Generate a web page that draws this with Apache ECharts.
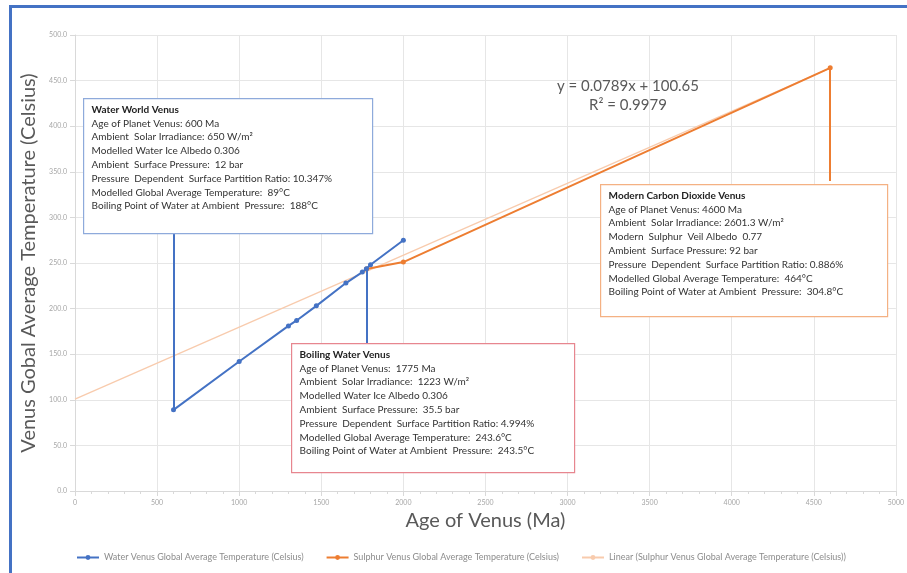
<!DOCTYPE html>
<html><head><meta charset="utf-8">
<script src="https://cdn.jsdelivr.net/npm/echarts@6/dist/echarts.min.js"></script>
<style>html,body{margin:0;padding:0;background:#fff}#c{width:907px;height:573px}</style>
</head><body><div id="c"></div>
<script>
const waterSeries = [[600,89],[1000,142],[1300,181],[1350,187],[1470,203],[1650,228],[1750,240],[1775,243.6],[1800,248],[2000,275]];
const sulphurSeries = [[1775,243.5],[2000,251],[4600,464]];
const trendSeries = [[0,100.65],[4600,463.59]];
const waterLeader = [[600,89],[600,283]];
const boilLeader = [[1775,243.6],[1775,162]];
const co2Leader = [[4600,464],[4600,340]];
const legendNames = ['Water Venus Global Average Temperature (Celsius)','Sulphur Venus Global Average Temperature (Celsius)','Linear (Sulphur Venus Global Average Temperature (Celsius))'];
const boxWater = ['Water World Venus','Age of Planet Venus: 600 Ma','Ambient  Solar Irradiance: 650 W/m²','Modelled Water Ice Albedo 0.306','Ambient  Surface Pressure:  12 bar','Pressure  Dependent  Surface Partition Ratio: 10.347%','Modelled Global Average Temperature:  89°C','Boiling Point of Water at Ambient  Pressure:  188°C'];
const boxBoil = ['Boiling Water Venus','Age of Planet Venus:  1775 Ma','Ambient  Solar Irradiance:  1223 W/m²','Modelled Water Ice Albedo 0.306','Ambient  Surface Pressure:  35.5 bar','Pressure  Dependent  Surface Partition Ratio: 4.994%','Modelled Global Average Temperature:  243.6°C','Boiling Point of Water at Ambient  Pressure:  243.5°C'];
const boxCo2 = ['Modern Carbon Dioxide Venus','Age of Planet Venus: 4600 Ma','Ambient  Solar Irradiance: 2601.3 W/m²','Modern  Sulphur  Veil Albedo  0.77','Ambient  Surface Pressure: 92 bar','Pressure  Dependent  Surface Partition Ratio: 0.886%','Modelled Global Average Temperature:  464°C','Boiling Point of Water at Ambient  Pressure:  304.8°C'];
const eqLines = ['y = 0.0789x + 100.65','R² = 0.9979'];

const FONT = 'Lato, "Open Sans", sans-serif';
const chart = echarts.init(document.getElementById('c'));

function box(lines, x, y, w, h, border){
  const txt = lines.map((l,i)=> i===0 ? '{b|'+l+'}' : '{n|'+l+'}').join('\n');
  return {
    type:'group', left:x, top:y, z:100,
    children:[
      {type:'rect', z:100, shape:{x:0,y:0,width:w,height:h}, style:{fill:'#fff', stroke:border, lineWidth:1.2}},
      {type:'text', z:101, x:8, y:4, style:{text:txt, rich:{
        b:{fontFamily:FONT, fontSize:10, fontWeight:'bold', fill:'#222', lineHeight:13.8},
        n:{fontFamily:FONT, fontSize:10, fill:'#333', lineHeight:13.8}
      }}}
    ]
  };
}
function leader(pts){
  return {silent:true, symbol:['none','none'], label:{show:false}, lineStyle:{type:'solid', width:2}, emphasis:{disabled:true},
    data:[[{coord:pts[0]},{coord:pts[1]}]]};
}

chart.setOption({
  animation:false,
  grid:{left:75, right:5, top:35, bottom:82, show:false},
  legend:{top:553, left:76, width:831, itemGap:22, itemWidth:22, itemHeight:6, padding:0,
    textStyle:{fontFamily:FONT, fontSize:9, color:'#8c8c8c'},
    data:legendNames},
  xAxis:{type:'value', min:0, max:5000, interval:500,
    name:'Age of Venus (Ma)', nameLocation:'middle', nameGap:20,
    nameTextStyle:{fontFamily:FONT, fontSize:20, color:'#595959'},
    axisLine:{lineStyle:{color:'#d9d9d9'}}, axisTick:{show:true, lineStyle:{color:'#d9d9d9'}},
    minorTick:{show:true, splitNumber:5, length:3, lineStyle:{color:'#d9d9d9'}},
    axisLabel:{fontFamily:FONT, fontSize:7, color:'#a6a6a6', margin:8, formatter:v=>String(v)},
    splitLine:{lineStyle:{color:'#e6e6e6'}}},
  yAxis:{type:'value', min:0, max:500, interval:50,
    name:'Venus Gobal Average Temperature (Celsius)', nameLocation:'middle', nameGap:35,
    nameTextStyle:{fontFamily:FONT, fontSize:20, color:'#595959'},
    axisLine:{show:true, lineStyle:{color:'#d9d9d9'}}, axisTick:{show:true, lineStyle:{color:'#d9d9d9'}},
    axisLabel:{fontFamily:FONT, fontSize:7, color:'#a6a6a6', margin:8, formatter:v=>v.toFixed(1)},
    splitLine:{lineStyle:{color:'#e6e6e6'}}},
  series:[
    {name:legendNames[2], type:'line', data:trendSeries, symbol:'none', z:1,
      lineStyle:{color:'#f8cbad', width:1.3}, itemStyle:{color:'#f8cbad'}},
    {name:legendNames[0], type:'line', data:waterSeries, symbol:'circle', symbolSize:5, z:3,
      lineStyle:{color:'#4472c4', width:2}, itemStyle:{color:'#4472c4'},
      markLine:leader(waterLeader)},
    {name:legendNames[1], type:'line', data:sulphurSeries, symbol:'circle', symbolSize:5, z:2,
      lineStyle:{color:'#ed7d31', width:2}, itemStyle:{color:'#ed7d31'},
      markLine:leader(co2Leader)},
    {name:'boilLeader', type:'line', data:[], symbol:'none', z:3,
      lineStyle:{color:'#4472c4', width:2}, itemStyle:{color:'#4472c4'},
      markLine:leader(boilLeader)}
  ],
  graphic:[
    {type:'rect', left:8, top:4, z:200, shape:{width:1000, height:700}, style:{fill:'none', stroke:'#4472c4', lineWidth:3}},
    box(boxWater, 83, 98, 289, 135, '#8eaadb'),
    box(boxBoil, 291, 343, 283, 129, '#e7868f'),
    box(boxCo2, 600, 184, 287, 132, '#f4b183'),
    {type:'text', z:50, x:628, y:86, style:{text:eqLines[0], fontFamily:FONT, fontSize:15, fill:'#595959', align:'center', verticalAlign:'middle'}},
    {type:'text', z:50, x:628, y:105, style:{text:eqLines[1], fontFamily:FONT, fontSize:15, fill:'#595959', align:'center', verticalAlign:'middle'}}
  ]
});
</script></body></html>
